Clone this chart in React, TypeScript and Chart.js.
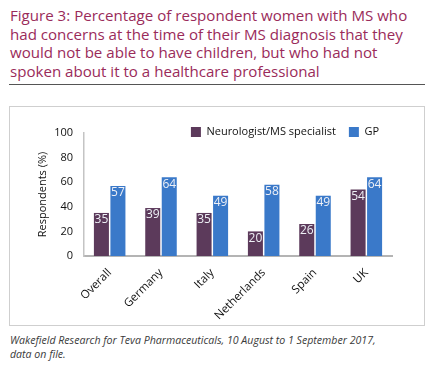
import React, { useEffect, useRef } from "react";
import { Chart, registerables } from "chart.js";

Chart.register(...registerables);

const categories = ["Overall", "Germany", "Italy", "Netherlands", "Spain", "UK"];
const neurologistValues = [35, 39, 35, 20, 26, 54];
const gpValues = [57, 64, 49, 58, 49, 64];
const yTicks = [0, 20, 40, 60, 80, 100];
const seriesNames = ["Neurologist/MS specialist", "GP"];
const titleLines = [
  "Figure 3: Percentage of respondent women with MS who",
  "had concerns at the time of their MS diagnosis that they",
  "would not be able to have children, but who had not",
  "spoken about it to a healthcare professional",
];
const captionLines = [
  "Wakefield Research for Teva Pharmaceuticals, 10 August to 1 September 2017,",
  "data on file.",
];

const FONT = "'Open Sans', 'Noto Sans', sans-serif";

const barLabelPlugin = {
  id: "barLabels",
  afterDatasetsDraw(chart: any) {
    const ctx = chart.ctx;
    ctx.save();
    ctx.font = `12px ${FONT}`;
    ctx.fillStyle = "#eef0f6";
    ctx.textAlign = "center";
    ctx.textBaseline = "middle";
    chart.data.datasets.forEach((ds: any, di: number) => {
      const meta = chart.getDatasetMeta(di);
      meta.data.forEach((bar: any, i: number) => {
        ctx.fillText(String(ds.data[i]), bar.x, bar.y + 7);
      });
    });
    ctx.restore();
  },
};

// move the legend down so it sits level with the top tick
const legendShiftPlugin = {
  id: "legendShift",
  afterLayout(chart: any) {
    const lg = chart.legend;
    if (!lg) return;
    const shift = 14.5;
    lg.top += shift;
    lg.bottom += shift;
  },
};

export default function App() {
  const ref = useRef<HTMLCanvasElement>(null);
  useEffect(() => {
    if (!ref.current) return;
    const chart = new Chart(ref.current, {
      type: "bar",
      data: {
        labels: categories,
        datasets: [
          {
            label: seriesNames[0],
            data: neurologistValues,
            backgroundColor: "#5c3a5b",
            barPercentage: 0.91,
            categoryPercentage: 0.643,
          },
          {
            label: seriesNames[1],
            data: gpValues,
            backgroundColor: "#3a79c9",
            barPercentage: 0.91,
            categoryPercentage: 0.643,
          },
        ],
      },
      options: {
        animation: false,
        responsive: false,
        layout: { padding: { top: -8, right: 31, bottom: 0, left: 0 } },
        plugins: {
          tooltip: { enabled: false },
          legend: {
            position: "top",
            align: "end",
            fullSize: false,
            labels: {
              boxWidth: 10,
              boxHeight: 10,
              padding: 13,
              color: "#111",
              font: { family: FONT, size: 11 },
            },
          } as any,
        },
        scales: {
          x: {
            grid: { display: false },
            border: { display: true, color: "#b4b4b4", width: 2 },
            ticks: {
              minRotation: 45,
              maxRotation: 45,
              color: "#111",
              padding: 2,
              font: { family: FONT, size: 11.5 },
            },
            afterFit(scale: any) {
              scale.height = 68;
            },
          },
          y: {
            min: 0,
            max: 100,
            afterBuildTicks(scale: any) {
              scale.ticks = yTicks.map((v) => ({ value: v }));
            },
            grid: { display: false },
            border: { display: true, color: "#c4c4c4", width: 1.5 },
            ticks: {
              color: "#111",
              padding: 3,
              font: { family: FONT, size: 11 },
            },
            title: {
              display: true,
              text: "Respondents (%)",
              color: "#111",
              font: { family: FONT, size: 11 },
              padding: { top: 26, bottom: 0 },
            },
            afterFit(scale: any) {
              scale.width = 74;
            },
          },
        },
      },
      plugins: [barLabelPlugin, legendShiftPlugin],
    });
    return () => chart.destroy();
  }, []);

  return (
    <div
      style={{
        position: "absolute",
        left: 0,
        top: 0,
        width: 436,
        height: 370,
        background: "#fff",
        fontFamily: FONT,
      }}
    >
      <div
        style={{
          position: "absolute",
          left: 10,
          top: 6,
          whiteSpace: "nowrap",
          fontSize: 15.1,
          lineHeight: "18.5px",
          color: "#9a2b5a",
        }}
      >
        {titleLines.map((l, i) => (
          <div key={i}>{l}</div>
        ))}
      </div>
      <div
        style={{
          position: "absolute",
          left: 9,
          top: 84,
          width: 416,
          height: 1,
          background: "#555",
        }}
      />
      <div
        style={{
          position: "absolute",
          left: 9,
          top: 106,
          width: 414,
          height: 218,
          border: "1px solid #cfcfcf",
        }}
      >
        <canvas ref={ref} width={413} height={217} style={{ display: "block" }} />
      </div>
      <div
        style={{
          position: "absolute",
          left: 10,
          top: 334,
          whiteSpace: "nowrap",
          fontSize: 10.6,
          lineHeight: "13.5px",
          fontStyle: "italic",
          color: "#3a3a3a",
        }}
      >
        {captionLines.map((l, i) => (
          <div key={i}>{l}</div>
        ))}
      </div>
    </div>
  );
}
